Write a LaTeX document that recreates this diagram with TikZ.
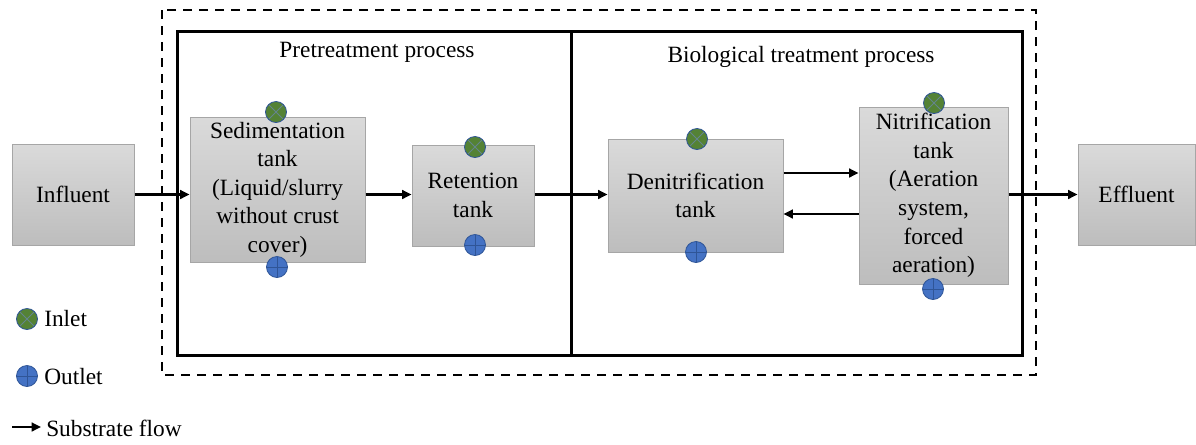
\documentclass[tikz,border=0pt]{standalone}
\usepackage{fontspec}
\setmainfont{Liberation Serif}
\usetikzlibrary{arrows.meta}
\newdimen\pxu \pxu=0.75pt
\definecolor{boxtop}{HTML}{DADADA}
\definecolor{boxbot}{HTML}{BDBDBD}
\definecolor{boxline}{HTML}{A6A6A6}
\definecolor{ingreen}{HTML}{548235}
\definecolor{outblue}{HTML}{4472C4}
\definecolor{ringblue}{HTML}{2F5597}
\tikzset{
  tank/.style={draw=boxline, line width=0.75pt, top color=boxtop, bottom color=boxbot,
    inner sep=0pt, align=center, font=\fontsize{17.5}{21.4}\selectfont, text=black},
  inletsym/.style={circle, draw=ringblue, line width=0.6pt, fill=ingreen,
    minimum size=21\pxu, inner sep=0pt,
    path picture={\draw[ringblue!60!ingreen!80!white, line width=0.7pt]
      (path picture bounding box.north west) -- (path picture bounding box.south east)
      (path picture bounding box.north east) -- (path picture bounding box.south west);}},
  outletsym/.style={circle, draw=ringblue, line width=0.6pt, fill=outblue,
    minimum size=21\pxu, inner sep=0pt,
    path picture={\draw[ringblue, line width=0.7pt]
      (path picture bounding box.north) -- (path picture bounding box.south)
      (path picture bounding box.west) -- (path picture bounding box.east);}},
  flow/.style={line width=1.7pt, -{Triangle[length=7pt,width=6.5pt]}},
  frame/.style={line width=2.25pt},
  outerframe/.style={line width=1.6pt, dash pattern=on 7pt off 5pt},
  title/.style={font=\fontsize{17.5}{21}\selectfont, inner sep=0pt},
  legend/.style={font=\fontsize{17.5}{21}\selectfont, inner sep=0pt, anchor=west}
}
\begin{document}
\begin{tikzpicture}[x=0.75pt, y=-0.75pt]
\useasboundingbox (0,0) rectangle (1196,444);
% frames
\draw[outerframe] (162,10) rectangle (1036,375);
\coordinate (pretl) at (177,31);
\coordinate (prebr) at (571,355);
\coordinate (biobr) at (1022,355);
\draw[frame] (pretl) rectangle (prebr);
\draw[frame] (571,31) rectangle (biobr);
\node[title] (pretitle) at (377,52) {Pretreatment process};
\node[title] (biotitle) at (801,57) {Biological treatment process};
% tanks
\node[tank, minimum width=122\pxu, minimum height=101\pxu] (infl) at (73,194.5) {Influent};
\node[tank, minimum width=175\pxu, minimum height=145\pxu] (sed) at (277.5,189.5)
  {Sedimentation\\tank\\(Liquid/slurry\\without crust\\cover)};
\node[tank, minimum width=122\pxu, minimum height=101\pxu] (ret) at (473,195.5) {Retention\\tank};
\node[tank, minimum width=175\pxu, minimum height=113\pxu] (den) at (695.5,195.5) {Denitrification\\tank};
\node[tank, minimum width=149\pxu, minimum height=177\pxu] (nit) at (933.5,195.5)
  {Nitrification\\tank\\(Aeration\\system,\\forced\\aeration)};
\node[tank, minimum width=117\pxu, minimum height=101\pxu] (eff) at (1136.5,194.5) {Effluent};
% inlets / outlets
\node[inletsym] (sedin) at (276,112) {};
\node[outletsym] (sedout) at (277,267) {};
\node[inletsym] (retin) at (475,147) {};
\node[outletsym] (retout) at (475,245) {};
\node[inletsym] (denin) at (697,139) {};
\node[outletsym] (denout) at (696,252) {};
\node[inletsym] (nitin) at (934,103) {};
\node[outletsym] (nitout) at (933,289) {};
% flows
\draw[flow] (infl.east) -- (sed.west |- infl.east);
\draw[flow] (sed.east |- infl.east) -- (ret.west |- infl.east);
\draw[flow] (ret.east |- infl.east) -- (den.west |- infl.east);
\coordinate (dnA) at (0,173);
\coordinate (dnB) at (0,214);
\draw[flow] (den.east |- dnA) -- (nit.west |- dnA);
\draw[flow] (nit.west |- dnB) -- (den.east |- dnB);
\draw[flow] (nit.east |- infl.east) -- (eff.west |- infl.east);
% legend
\node[inletsym] (leginlet) at (27,319) {};
\node[legend] (leginlettext) at (44,319) {Inlet};
\node[outletsym] (legoutlet) at (27,376) {};
\node[legend] (legoutlettext) at (44,377) {Outlet};
\coordinate (legarrA) at (12,427);
\coordinate (legarrB) at (41,427);
\draw[flow] (legarrA) -- (legarrB);
\node[legend] (legflowtext) at (46,428) {Substrate flow};
\end{tikzpicture}
\end{document}
